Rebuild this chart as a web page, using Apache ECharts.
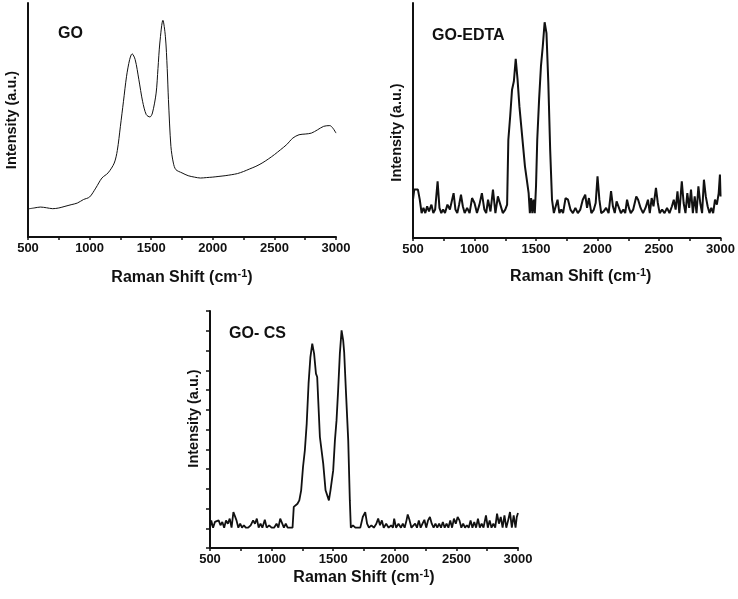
<!DOCTYPE html>
<html>
<head>
<meta charset="utf-8">
<script src="https://cdn.jsdelivr.net/npm/echarts@6/dist/echarts.min.js"></script>
<style>
  html, body { margin: 0; padding: 0; background: #fff; }
  #chart { width: 738px; height: 599px; }
</style>
</head>
<body>
<div id="chart"></div>
<script>
/* Raman spectra: [shift cm-1, intensity a.u.] */
const X_TICKS = [500, 1000, 1500, 2000, 2500, 3000]

const GO = [
  [500,12.0],[550,12.4],[600,12.8],[650,12.5],[700,12.1],[750,12.4],[800,13.1],[850,13.8],
  [900,14.5],[950,16.0],[1000,17.1],[1050,20.9],[1100,25.2],[1150,27.4],[1200,31.6],[1225,37.0],
  [1250,47.3],[1275,58.0],[1300,68.7],[1325,75.8],[1345,78.3],[1370,75.8],[1400,67.2],[1430,58.0],
  [1460,52.3],[1490,51.3],[1510,53.0],[1540,61.5],[1555,72.0],[1570,82.9],[1595,92.6],[1615,85.8],
  [1630,72.0],[1640,58.7],[1660,38.7],[1680,31.6],[1700,28.8],[1750,27.4],[1800,26.2],[1850,25.6],
  [1900,25.2],[1950,25.4],[2000,25.6],[2050,25.9],[2100,26.2],[2150,26.6],[2200,27.1],[2250,28.0],
  [2300,29.1],[2350,30.2],[2400,31.6],[2450,33.3],[2500,35.2],[2550,37.3],[2600,39.5],[2650,42.3],
  [2700,43.7],[2750,44.0],[2800,44.4],[2850,45.8],[2900,47.3],[2950,47.6],[2975,46.5],[3000,44.4]
]

const GO_EDTA = [
  [500,16.3],[510,20.6],[520,21.3],[540,20.6],[555,16.3],[570,10.6],[585,12.8],[600,10.6],
  [615,13.5],[630,11.3],[650,14.2],[665,10.6],[680,12.1],[700,24.1],[715,12.8],[730,10.6],
  [745,12.1],[760,10.6],[780,14.2],[800,12.1],[815,12.8],[830,19.1],[845,12.1],[860,10.6],
  [875,14.2],[890,18.4],[905,13.5],[920,10.6],[940,12.8],[960,10.6],[980,17.0],[1000,14.9],
  [1020,10.6],[1040,14.2],[1060,19.1],[1080,12.1],[1095,10.6],[1110,16.3],[1130,11.3],[1150,20.6],
  [1170,10.6],[1190,17.7],[1210,14.2],[1230,10.6],[1250,12.1],[1265,14.2],[1275,41.8],[1290,51.8],
  [1305,63.1],[1320,66.7],[1335,76.2],[1350,67.4],[1365,56.0],[1380,47.5],[1395,39.0],[1410,30.5],
  [1425,24.8],[1440,19.1],[1450,10.6],[1460,17.0],[1470,10.6],[1480,16.3],[1490,10.6],[1500,22.0],
  [1510,41.8],[1525,58.9],[1540,73.0],[1555,81.6],[1570,91.8],[1585,87.2],[1600,66.0],[1615,37.6],
  [1630,16.3],[1645,10.6],[1660,11.3],[1675,16.3],[1690,10.6],[1705,12.1],[1720,10.6],[1740,17.0],
  [1760,16.3],[1780,12.1],[1800,10.6],[1820,12.8],[1840,10.6],[1860,12.1],[1880,16.3],[1900,18.4],
  [1915,12.8],[1930,17.0],[1950,10.6],[1970,12.1],[1985,14.9],[2000,26.2],[2015,16.3],[2030,10.6],
  [2050,11.3],[2070,12.8],[2090,10.6],[2110,19.9],[2125,13.5],[2140,10.6],[2155,15.6],[2170,14.9],
  [2190,10.6],[2210,12.1],[2225,10.6],[2240,16.3],[2255,12.8],[2270,10.6],[2290,12.1],[2315,17.7],
  [2330,16.3],[2350,12.8],[2370,10.6],[2390,12.8],[2410,16.3],[2425,10.6],[2440,17.0],[2455,13.5],
  [2475,21.3],[2490,14.9],[2505,10.6],[2525,12.1],[2545,10.6],[2565,12.8],[2585,10.6],[2605,13.5],
  [2620,16.3],[2635,12.1],[2650,19.9],[2665,10.6],[2685,24.1],[2700,14.9],[2715,10.6],[2730,19.1],
  [2745,12.8],[2760,20.6],[2775,10.6],[2790,17.7],[2805,10.6],[2820,22.0],[2835,14.9],[2850,10.6],
  [2865,24.8],[2880,17.7],[2895,13.5],[2910,10.6],[2925,12.8],[2940,10.6],[2955,16.3],[2970,14.2],
  [2985,19.1],[2995,27.0],[3000,17.7]
]

const GO_CS = [
  [500,10.3],[510,14.0],[525,10.3],[540,13.2],[555,12.3],[570,14.0],[585,11.5],[600,13.2],
  [615,10.3],[630,14.0],[645,12.3],[660,14.9],[675,10.3],[690,18.2],[700,19.1],[715,14.0],
  [730,10.3],[745,12.3],[760,10.3],[775,11.5],[790,10.3],[810,10.3],[830,11.5],[850,14.0],
  [865,12.3],[880,14.9],[895,10.3],[910,12.3],[925,10.3],[945,14.3],[960,10.3],[980,11.5],
  [1000,10.3],[1020,10.3],[1040,12.3],[1055,10.3],[1070,14.9],[1085,14.0],[1100,10.3],[1115,12.3],
  [1130,10.3],[1150,10.3],[1170,10.3],[1180,20.8],[1195,19.9],[1210,22.4],[1225,24.1],[1240,29.2],
  [1255,41.0],[1270,49.5],[1285,63.0],[1300,83.2],[1315,96.7],[1330,103.5],[1345,98.4],[1360,88.3],
  [1370,86.6],[1392,56.2],[1419,42.7],[1438,29.2],[1446,28.4],[1465,24.1],[1478,29.2],[1500,39.3],
  [1514,54.5],[1527,64.6],[1540,79.8],[1554,98.4],[1568,110.2],[1581,105.1],[1589,99.2],[1603,79.8],
  [1622,54.5],[1635,24.1],[1643,10.3],[1660,11.5],[1680,10.3],[1700,10.3],[1720,10.3],[1740,15.7],
  [1760,18.2],[1775,12.3],[1790,10.3],[1810,11.5],[1830,10.3],[1850,12.3],[1865,14.9],[1880,11.5],
  [1895,14.0],[1910,10.3],[1930,12.3],[1950,10.3],[1970,11.5],[1985,10.3],[1995,14.9],[2010,10.3],
  [2030,12.3],[2050,10.3],[2065,12.3],[2080,10.3],[2095,14.0],[2105,17.0],[2120,14.0],[2135,10.3],
  [2150,10.3],[2165,12.3],[2180,10.3],[2195,14.0],[2210,10.3],[2225,12.3],[2240,14.3],[2255,10.3],
  [2270,14.0],[2285,15.7],[2300,12.3],[2315,10.3],[2330,12.3],[2345,10.3],[2360,12.3],[2375,10.3],
  [2390,13.2],[2405,10.3],[2420,12.3],[2435,10.3],[2450,14.0],[2465,10.3],[2480,14.9],[2495,12.3],
  [2510,15.7],[2525,14.0],[2540,10.3],[2555,12.3],[2570,10.3],[2585,11.5],[2600,10.3],[2615,14.0],
  [2630,10.3],[2645,13.2],[2660,10.3],[2675,14.9],[2690,10.3],[2705,12.3],[2720,10.3],[2740,16.5],
  [2755,10.3],[2770,14.0],[2785,10.3],[2800,12.3],[2815,10.3],[2830,17.4],[2845,12.3],[2860,15.7],
  [2875,10.3],[2890,16.5],[2905,10.3],[2920,14.0],[2935,18.2],[2950,10.3],[2965,16.5],[2980,10.3],
  [2990,15.7],[3000,17.7]
]

const FONT = 'Liberation Sans, Arial, sans-serif'
const BLACK = '#111'

// nameGap / padding per panel tuned so the titles sit where the figure has them
function xAxisFor(gridIndex, nameGap, padLeft) {
  return {
    type: 'value', gridIndex, min: 500, max: 3000, interval: 250,
    name: 'Raman Shift (cm{sup|-1})',
    nameLocation: 'middle', nameGap,
    nameTextStyle: {
      fontFamily: FONT, fontSize: 16, fontWeight: 'bold', color: BLACK,
      padding: [0, 0, 0, padLeft || 0],
      rich: { sup: { fontFamily: FONT, fontSize: 11, fontWeight: 'bold', color: BLACK, verticalAlign: 'top', padding: [0, 0, 8, 0] } },
    },
    axisLine: { show: true, onZero: false, lineStyle: { color: BLACK, width: 2 } },
    axisTick: { show: true, length: 3, lineStyle: { color: BLACK, width: 1.5 } },
    axisLabel: {
      fontFamily: FONT, fontSize: 13, fontWeight: 'bold', color: BLACK, margin: 5,
      formatter: v => X_TICKS.includes(v) ? String(v) : '',
    },
    splitLine: { show: false },
  }
}

function yAxisFor(gridIndex, max, ticks, padding) {
  return {
    type: 'value', gridIndex, min: 0, max, interval: ticks ? 10 : max,
    name: 'Intensity (a.u.)',
    nameLocation: 'middle', nameGap: 9,
    nameTextStyle: { fontFamily: FONT, fontSize: 14.5, fontWeight: 'bold', color: BLACK, padding: padding || 0 },
    axisLine: { show: true, onZero: false, lineStyle: { color: BLACK, width: 2 } },
    axisTick: { show: !!ticks, length: 4, lineStyle: { color: BLACK, width: 1.5 } },
    axisLabel: { show: false },
    splitLine: { show: false },
  }
}

function lineFor(idx, data, width) {
  return {
    type: 'line', xAxisIndex: idx, yAxisIndex: idx, data,
    showSymbol: false, smooth: idx === 0 ? 0.3 : false,
    lineStyle: { color: BLACK, width },
    animation: false,
  }
}

const titleStyle = { fontFamily: FONT, fontSize: 16, fontWeight: 'bold', color: BLACK }

const chart = echarts.init(document.getElementById('chart'), null, { renderer: 'canvas' })
chart.setOption({
  backgroundColor: '#fff',
  animation: false,
  title: [
    { text: 'GO', left: 53, top: 21, textStyle: titleStyle },
    { text: 'GO-EDTA', left: 427, top: 23, textStyle: titleStyle },
    { text: 'GO- CS', left: 224, top: 321, textStyle: titleStyle },
  ],
  grid: [
    { left: 28, top: 3, width: 308, height: 234 },
    { left: 413, top: 3, width: 309, height: 235 },
    { left: 210, top: 311, width: 308, height: 237 },
  ],
  xAxis: [xAxisFor(0, 31), xAxisFor(1, 29, 28), xAxisFor(2, 20)],
  yAxis: [
    yAxisFor(0, 100, false),
    yAxisFor(1, 100, false, [0, 24, 0, 0]),
    yAxisFor(2, 120, true, [0, 0, 0, 22]),
  ],
  series: [
    lineFor(0, GO, 1),
    lineFor(1, GO_EDTA, 2),
    lineFor(2, GO_CS, 1.8),
  ],
})
</script>
</body>
</html>
